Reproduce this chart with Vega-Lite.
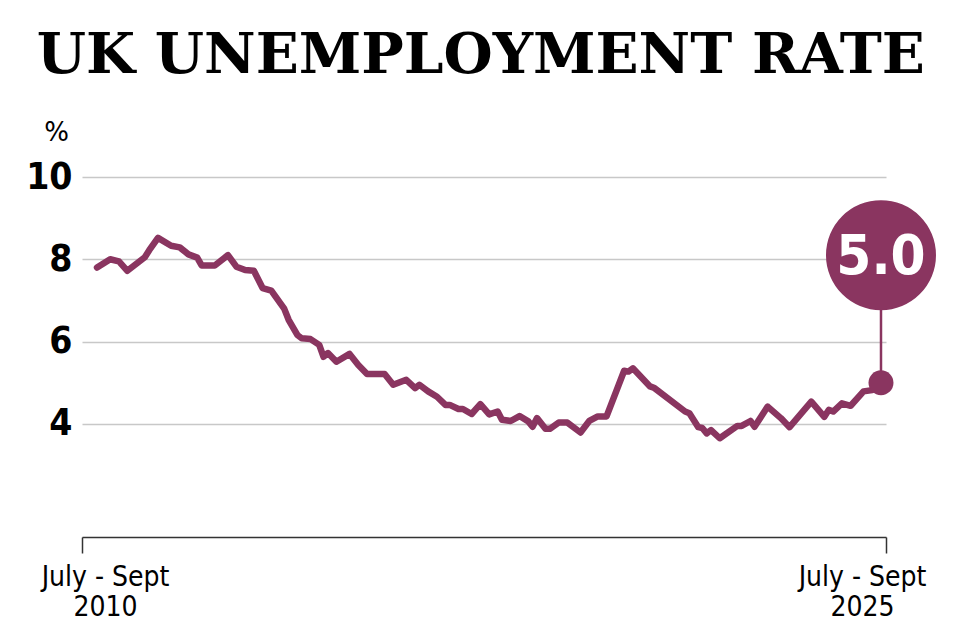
{
  "$schema": "https://vega.github.io/schema/vega-lite/v6.json",
  "width": 804,
  "height": 360,
  "autosize": {"type": "none"},
  "padding": {"left": 82, "top": 177, "right": 74, "bottom": 103},
  "background": "white",
  "title": {
    "text": "UK UNEMPLOYMENT RATE",
    "anchor": "start",
    "frame": "bounds",
    "font": "DejaVu Serif",
    "fontWeight": "bold",
    "fontSize": 56.5,
    "color": "#000000",
    "baseline": "alphabetic",
    "offset": -10,
    "dx": 11
  },
  "datasets": {
    "series": [
      {"date": "2010-08-01", "rate": 7.8},
      {"date": "2010-11-01", "rate": 8.0},
      {"date": "2011-01-01", "rate": 7.95},
      {"date": "2011-03-01", "rate": 7.72},
      {"date": "2011-07-01", "rate": 8.05},
      {"date": "2011-08-01", "rate": 8.22},
      {"date": "2011-10-01", "rate": 8.52},
      {"date": "2012-01-01", "rate": 8.33},
      {"date": "2012-03-01", "rate": 8.29},
      {"date": "2012-05-01", "rate": 8.12},
      {"date": "2012-07-01", "rate": 8.04},
      {"date": "2012-08-01", "rate": 7.85},
      {"date": "2012-11-01", "rate": 7.85},
      {"date": "2013-02-01", "rate": 8.1},
      {"date": "2013-04-01", "rate": 7.82},
      {"date": "2013-06-01", "rate": 7.74},
      {"date": "2013-08-01", "rate": 7.72},
      {"date": "2013-10-01", "rate": 7.3},
      {"date": "2013-12-01", "rate": 7.24},
      {"date": "2014-03-01", "rate": 6.8},
      {"date": "2014-04-01", "rate": 6.53},
      {"date": "2014-06-01", "rate": 6.16},
      {"date": "2014-07-01", "rate": 6.08},
      {"date": "2014-09-01", "rate": 6.06},
      {"date": "2014-11-01", "rate": 5.92},
      {"date": "2014-12-01", "rate": 5.63},
      {"date": "2015-01-01", "rate": 5.72},
      {"date": "2015-03-01", "rate": 5.51},
      {"date": "2015-06-01", "rate": 5.7},
      {"date": "2015-08-01", "rate": 5.43},
      {"date": "2015-10-01", "rate": 5.21},
      {"date": "2016-02-01", "rate": 5.21},
      {"date": "2016-04-01", "rate": 4.95},
      {"date": "2016-07-01", "rate": 5.07},
      {"date": "2016-09-01", "rate": 4.87},
      {"date": "2016-10-01", "rate": 4.95},
      {"date": "2016-12-01", "rate": 4.79},
      {"date": "2017-02-01", "rate": 4.66},
      {"date": "2017-04-01", "rate": 4.46},
      {"date": "2017-05-01", "rate": 4.46},
      {"date": "2017-07-01", "rate": 4.36},
      {"date": "2017-08-01", "rate": 4.36},
      {"date": "2017-10-01", "rate": 4.24},
      {"date": "2017-12-01", "rate": 4.48},
      {"date": "2018-02-01", "rate": 4.23},
      {"date": "2018-04-01", "rate": 4.3},
      {"date": "2018-05-01", "rate": 4.1},
      {"date": "2018-07-01", "rate": 4.07},
      {"date": "2018-09-01", "rate": 4.19},
      {"date": "2018-11-01", "rate": 4.06},
      {"date": "2018-12-01", "rate": 3.93},
      {"date": "2019-01-01", "rate": 4.14},
      {"date": "2019-03-01", "rate": 3.88},
      {"date": "2019-04-01", "rate": 3.88},
      {"date": "2019-06-01", "rate": 4.03},
      {"date": "2019-08-01", "rate": 4.03},
      {"date": "2019-11-01", "rate": 3.79},
      {"date": "2020-01-01", "rate": 4.07},
      {"date": "2020-03-01", "rate": 4.18},
      {"date": "2020-05-01", "rate": 4.18},
      {"date": "2020-09-01", "rate": 5.29},
      {"date": "2020-10-01", "rate": 5.27},
      {"date": "2020-11-01", "rate": 5.35},
      {"date": "2021-03-01", "rate": 4.91},
      {"date": "2021-04-01", "rate": 4.87},
      {"date": "2021-11-01", "rate": 4.3},
      {"date": "2021-12-01", "rate": 4.26},
      {"date": "2022-02-01", "rate": 3.92},
      {"date": "2022-03-01", "rate": 3.9},
      {"date": "2022-04-01", "rate": 3.77},
      {"date": "2022-05-01", "rate": 3.85},
      {"date": "2022-07-01", "rate": 3.65},
      {"date": "2022-11-01", "rate": 3.95},
      {"date": "2022-12-01", "rate": 3.95},
      {"date": "2023-02-01", "rate": 4.07},
      {"date": "2023-03-01", "rate": 3.93},
      {"date": "2023-06-01", "rate": 4.42},
      {"date": "2023-09-01", "rate": 4.14},
      {"date": "2023-11-01", "rate": 3.92},
      {"date": "2024-04-01", "rate": 4.54},
      {"date": "2024-07-01", "rate": 4.17},
      {"date": "2024-08-01", "rate": 4.34},
      {"date": "2024-09-01", "rate": 4.3},
      {"date": "2024-11-01", "rate": 4.5},
      {"date": "2025-01-01", "rate": 4.44},
      {"date": "2025-04-01", "rate": 4.79},
      {"date": "2025-06-01", "rate": 4.82},
      {"date": "2025-08-01", "rate": 5.0}
    ],
    "latest": [
      {"date": "2025-08-01", "rate": 5.0, "bubble": 8.1, "label": "5.0"}
    ]
  },
  "encoding": {
    "x": {
      "field": "date",
      "type": "temporal",
      "scale": {
        "domain": [
          {"year": 2010, "month": 4, "date": 18},
          {"year": 2025, "month": 9, "date": 5}
        ]
      },
      "axis": {
        "title": null,
        "values": [
          {"year": 2010, "month": 4, "date": 18},
          {"year": 2025, "month": 9, "date": 5}
        ],
        "grid": false,
        "domainColor": "#333333",
        "domainWidth": 1.5,
        "tickColor": "#333333",
        "tickWidth": 1.5,
        "tickSize": 16,
        "labelFlush": false,
        "labelOverlap": false,
        "labelExpr": "year(datum.value) < 2015 ? ['July - Sept', '2010'] : ['July - Sept', '2025']",
        "labelOffset": {"condition": {"test": "year(datum.value) < 2015", "value": 23}, "value": -24},
        "labelFont": "DejaVu Sans Condensed, sans-serif",
        "labelFontSize": 28,
        "labelFontWeight": "normal",
        "labelColor": "#000000",
        "labelLineHeight": 30,
        "labelPadding": 10
      }
    },
    "y": {
      "field": "rate",
      "type": "quantitative",
      "scale": {"domain": [1.25, 10], "nice": false, "zero": false},
      "axis": {
        "title": "%",
        "titleAngle": 0,
        "titleAlign": "center",
        "titleBaseline": "alphabetic",
        "titleX": -26,
        "titleY": -37,
        "titleFont": "DejaVu Sans, sans-serif",
        "titleFontSize": 26,
        "titleFontWeight": "normal",
        "titleColor": "#000000",
        "values": [4, 6, 8, 10],
        "domain": false,
        "ticks": false,
        "grid": true,
        "gridColor": "#c8c8c8",
        "gridWidth": 1.5,
        "labelFont": "DejaVu Sans Condensed, sans-serif",
        "labelFontSize": 37,
        "labelFontWeight": "bold",
        "labelColor": "#000000",
        "labelPadding": 10,
        "labelBaseline": "middle"
      }
    }
  },
  "layer": [
    {
      "data": {"name": "series"},
      "mark": {"type": "line", "color": "#8a3560", "strokeWidth": 6.5, "strokeJoin": "round", "strokeCap": "round"}
    },
    {
      "data": {"name": "latest"},
      "mark": {"type": "rule", "color": "#8a3560", "strokeWidth": 2.5},
      "encoding": {"y": {"field": "bubble", "type": "quantitative"}, "y2": {"field": "rate"}}
    },
    {
      "data": {"name": "latest"},
      "mark": {"type": "point", "shape": "circle", "filled": true, "opacity": 1, "color": "#8a3560", "size": 625}
    },
    {
      "data": {"name": "latest"},
      "mark": {"type": "point", "shape": "circle", "filled": true, "opacity": 1, "color": "#8a3560", "size": 12100},
      "encoding": {"y": {"field": "bubble", "type": "quantitative"}}
    },
    {
      "data": {"name": "latest"},
      "mark": {"type": "text", "color": "#ffffff", "font": "DejaVu Sans Condensed, sans-serif", "fontSize": 56, "fontWeight": "bold", "align": "center", "baseline": "middle", "dy": 2},
      "encoding": {"y": {"field": "bubble", "type": "quantitative"}, "text": {"field": "label"}}
    }
  ],
  "config": {"view": {"stroke": null}}
}
